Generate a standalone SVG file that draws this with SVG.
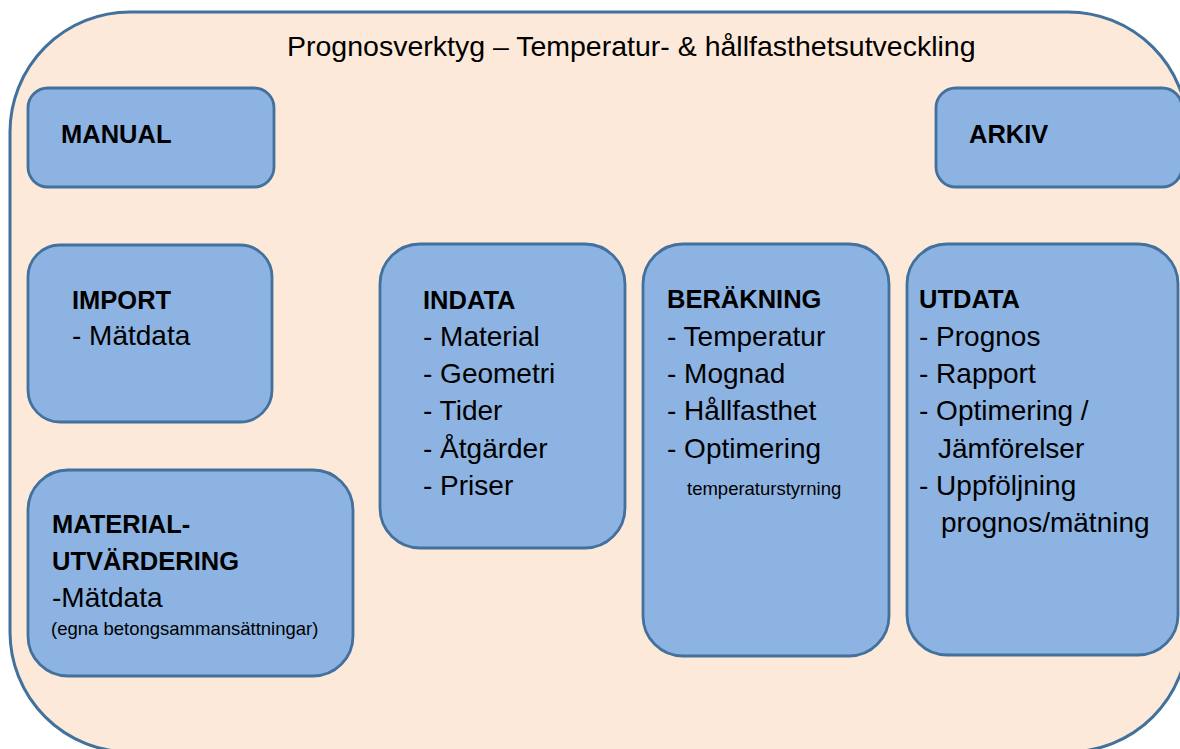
<svg xmlns="http://www.w3.org/2000/svg" width="1180" height="749" viewBox="0 0 1180 749">
<style>
.outer{fill:#fde9d9;stroke:#41719c;stroke-width:3}
.box{fill:#8db3e2;stroke:#41719c;stroke-width:2.8}
text{font-family:"Liberation Sans",Arial,sans-serif;fill:#000}
.title{font-size:28.5px}
.h{font-size:25.5px;font-weight:bold}
.b{font-size:28px}
.s{font-size:18.5px}
</style>
<rect width="1180" height="749" fill="#ffffff"/>
<g id="container">
<rect class="outer" x="10" y="12" width="1178" height="740" rx="120" ry="120"/>
<text class="title" x="287" y="56">Prognosverktyg – Temperatur- &amp; hållfasthetsutveckling</text>
</g>
<g id="connectors"/>
<g id="manual">
<rect class="box" x="28" y="88" width="246" height="99" rx="20" ry="20"/>
<text class="h" x="61" y="143">MANUAL</text>
</g>
<g id="arkiv">
<rect class="box" x="936" y="88" width="246" height="99" rx="20" ry="20"/>
<text class="h" x="969" y="143">ARKIV</text>
</g>
<g id="import">
<rect class="box" x="28" y="245" width="244" height="177" rx="32" ry="32"/>
<text class="h" x="72" y="309">IMPORT</text>
<text class="b" x="72" y="345">- Mätdata</text>
</g>
<g id="materialutvardering">
<rect class="box" x="28" y="470" width="325" height="206" rx="40" ry="40"/>
<text class="h" x="52" y="533">MATERIAL-</text>
<text class="h" x="52" y="570">UTVÄRDERING</text>
<text class="b" x="52" y="607">-Mätdata</text>
<text class="s" x="51" y="635">(egna betongsammansättningar)</text>
</g>
<g id="indata">
<rect class="box" x="380" y="244" width="245" height="304" rx="40" ry="40"/>
<text class="h" x="423" y="309">INDATA</text>
<text class="b" x="423" y="346">- Material</text>
<text class="b" x="423" y="383">- Geometri</text>
<text class="b" x="423" y="420">- Tider</text>
<text class="b" x="423" y="458">- Åtgärder</text>
<text class="b" x="423" y="495">- Priser</text>
</g>
<g id="berakning">
<rect class="box" x="643" y="244" width="246" height="412" rx="40" ry="40"/>
<text class="h" x="667" y="308">BERÄKNING</text>
<text class="b" x="667" y="346">- Temperatur</text>
<text class="b" x="667" y="383">- Mognad</text>
<text class="b" x="667" y="420">- Hållfasthet</text>
<text class="b" x="667" y="458">- Optimering</text>
<text class="s" x="687" y="495">temperaturstyrning</text>
</g>
<g id="utdata">
<rect class="box" x="907" y="244" width="271" height="411" rx="40" ry="40"/>
<text class="h" x="919" y="308">UTDATA</text>
<text class="b" x="919" y="346">- Prognos</text>
<text class="b" x="919" y="383">- Rapport</text>
<text class="b" x="919" y="420">- Optimering /</text>
<text class="b" x="938" y="458">Jämförelser</text>
<text class="b" x="919" y="495">- Uppföljning</text>
<text class="b" x="941" y="532">prognos/mätning</text>
</g>
</svg>
